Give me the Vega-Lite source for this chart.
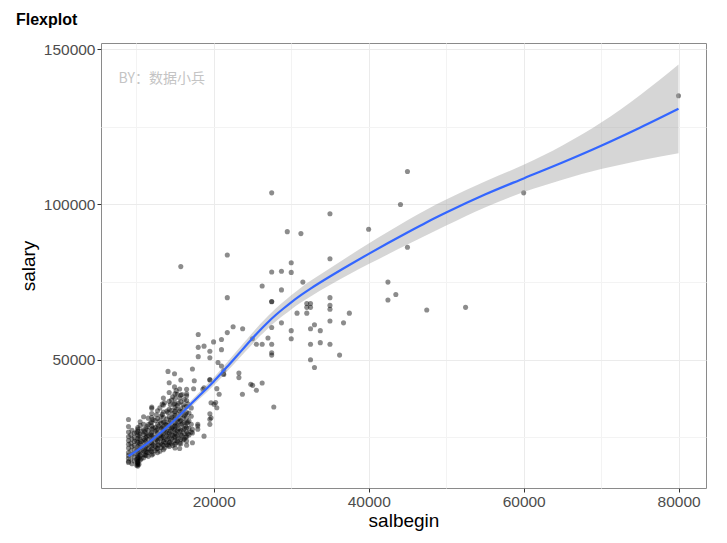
{
"$schema": "https://vega.github.io/schema/vega-lite/v6.json",
"width": 605, "height": 445,
"autosize": {"type": "none"},
"padding": {"left": 101, "top": 43, "right": 21, "bottom": 55},
"background": "white",
"config": {"view": {"stroke": "#8a8a8a", "strokeWidth": 1}, "font": "Liberation Sans"},
"title": {"text": "Flexplot", "anchor": "start", "frame": "group", "dx": -85, "dy": 15, "offset": 13, "baseline": "bottom", "fontSize": 16, "fontWeight": "bold", "color": "#000000", "font": "Liberation Sans"},
"datasets": {
"pts": [
{"salbegin":45000,"salary":110625},{"salbegin":27480,"salary":103750},{"salbegin":44100,"salary":100000},{"salbegin":35000,"salary":97000},{"salbegin":39990,"salary":92000},{"salbegin":29490,"salary":91250},{"salbegin":31250,"salary":90625},{"salbegin":45000,"salary":86250},{"salbegin":21750,"salary":83750},{"salbegin":35000,"salary":82500},{"salbegin":30000,"salary":81250},{"salbegin":27480,"salary":78250},{"salbegin":28740,"salary":78500},{"salbegin":30000,"salary":78125},{"salbegin":31500,"salary":75000},{"salbegin":26250,"salary":73750},{"salbegin":42480,"salary":75000},{"salbegin":28740,"salary":72500},{"salbegin":43500,"salary":71000},{"salbegin":42480,"salary":69250},{"salbegin":21750,"salary":70000},{"salbegin":35000,"salary":70000},{"salbegin":27480,"salary":68750},{"salbegin":27480,"salary":68700},{"salbegin":32010,"salary":68125},{"salbegin":32490,"salary":68125},{"salbegin":32010,"salary":66875},{"salbegin":32490,"salary":66875},{"salbegin":35000,"salary":67500},{"salbegin":35000,"salary":66250},{"salbegin":47490,"salary":66000},{"salbegin":52500,"salary":66875},{"salbegin":37500,"salary":65000},{"salbegin":30750,"salary":65000},{"salbegin":32010,"salary":65000},{"salbegin":36750,"salary":61875},{"salbegin":35000,"salary":62500},{"salbegin":28740,"salary":61875},{"salbegin":33000,"salary":61250},{"salbegin":32490,"salary":60000},{"salbegin":33750,"salary":59375},{"salbegin":27480,"salary":60375},{"salbegin":30000,"salary":59375},{"salbegin":30000,"salary":56750},{"salbegin":23730,"salary":60000},{"salbegin":22500,"salary":60625},{"salbegin":21750,"salary":58750},{"salbegin":21000,"salary":56500},{"salbegin":19980,"salary":55750},{"salbegin":18750,"salary":54375},{"salbegin":19500,"salary":52750},{"salbegin":21000,"salary":53250},{"salbegin":19500,"salary":50625},{"salbegin":20550,"salary":49125},{"salbegin":24990,"salary":56750},{"salbegin":25500,"salary":55000},{"salbegin":26250,"salary":55000},{"salbegin":27480,"salary":55000},{"salbegin":27000,"salary":57000},{"salbegin":27480,"salary":52250},{"salbegin":27480,"salary":51500},{"salbegin":32490,"salary":55000},{"salbegin":33750,"salary":55500},{"salbegin":35000,"salary":55000},{"salbegin":36240,"salary":51500},{"salbegin":32490,"salary":50000},{"salbegin":33000,"salary":47500},{"salbegin":23250,"salary":45750},{"salbegin":23250,"salary":44250},{"salbegin":21300,"salary":46500},{"salbegin":21300,"salary":45250},{"salbegin":26250,"salary":42500},{"salbegin":25020,"salary":41750},{"salbegin":25500,"salary":40200},{"salbegin":27750,"salary":34800},{"salbegin":60000,"salary":103750},{"salbegin":79980,"salary":135000},{"salbegin":15750,"salary":80000},{"salbegin":18000,"salary":58125},{"salbegin":18000,"salary":54000},{"salbegin":18000,"salary":51000},{"salbegin":17250,"salary":47000},{"salbegin":14100,"salary":46250},{"salbegin":14940,"salary":45500},{"salbegin":15750,"salary":43500},{"salbegin":17490,"salary":43250},{"salbegin":19500,"salary":43500},{"salbegin":19500,"salary":43600},{"salbegin":21240,"salary":45500},{"salbegin":14250,"salary":42600},{"salbegin":14940,"salary":41250},{"salbegin":24780,"salary":42100},{"salbegin":15600,"salary":40600},{"salbegin":16500,"salary":40500},{"salbegin":17400,"salary":40650},{"salbegin":18600,"salary":40500},{"salbegin":20400,"salary":40700},{"salbegin":12000,"salary":34350},{"salbegin":13350,"salary":35700},{"salbegin":15300,"salary":38900},{"salbegin":15900,"salary":38800},{"salbegin":16500,"salary":39000},{"salbegin":20700,"salary":38900},{"salbegin":21000,"salary":48000},{"salbegin":23700,"salary":38900},{"salbegin":20250,"salary":36200},{"salbegin":20400,"salary":34550},{"salbegin":19500,"salary":32600},{"salbegin":19500,"salary":30800},{"salbegin":19500,"salary":29200},{"salbegin":18750,"salary":25400},{"salbegin":17940,"salary":28650},{"salbegin":17940,"salary":27600},{"salbegin":17250,"salary":27600},{"salbegin":17250,"salary":26450},{"salbegin":16500,"salary":22500},{"salbegin":15600,"salary":21400},{"salbegin":18750,"salary":41000},{"salbegin":19650,"salary":36150},{"salbegin":20040,"salary":35650},{"salbegin":19650,"salary":31300},{"salbegin":17250,"salary":23250},{"salbegin":17940,"salary":29200},{"salbegin":9000,"salary":30750},{"salbegin":10950,"salary":31650},{"salbegin":12000,"salary":34800},{"salbegin":10200,"salary":27600},{"salbegin":9000,"salary":21600},{"salbegin":9000,"salary":17300},
{"salbegin":9000,"salary":16950},{"salbegin":9000,"salary":18300},{"salbegin":9000,"salary":19200},{"salbegin":9000,"salary":20100},{"salbegin":9000,"salary":22800},{"salbegin":9000,"salary":24000},{"salbegin":9000,"salary":25200},{"salbegin":9000,"salary":26700},{"salbegin":9000,"salary":28500},
{"salbegin":9750,"salary":17400},{"salbegin":9750,"salary":18750},{"salbegin":9750,"salary":19800},{"salbegin":9750,"salary":21000},{"salbegin":9750,"salary":22350},{"salbegin":9750,"salary":23700},{"salbegin":9750,"salary":25050},{"salbegin":9750,"salary":26400},
{"salbegin":10200,"salary":15750},{"salbegin":10200,"salary":16200},{"salbegin":10200,"salary":16500},{"salbegin":10200,"salary":16800},{"salbegin":10200,"salary":17100},{"salbegin":10200,"salary":17400},{"salbegin":10200,"salary":18000},{"salbegin":10200,"salary":18600},{"salbegin":10200,"salary":19350},{"salbegin":10200,"salary":20250},{"salbegin":10200,"salary":21150},{"salbegin":10200,"salary":22050},{"salbegin":10200,"salary":23400},{"salbegin":10200,"salary":24600},{"salbegin":10200,"salary":25800},{"salbegin":10200,"salary":27000},{"salbegin":10200,"salary":28200},
{"salbegin":10500,"salary":17700},{"salbegin":10500,"salary":19050},{"salbegin":10500,"salary":20400},{"salbegin":10500,"salary":21750},{"salbegin":10500,"salary":23100},{"salbegin":10500,"salary":24450},{"salbegin":10500,"salary":26100},{"salbegin":10500,"salary":28800},{"salbegin":10500,"salary":30000},
{"salbegin":10950,"salary":18450},{"salbegin":10950,"salary":19500},{"salbegin":10950,"salary":20700},{"salbegin":10950,"salary":22050},{"salbegin":10950,"salary":23250},{"salbegin":10950,"salary":24600},{"salbegin":10950,"salary":25950},{"salbegin":10950,"salary":27450},{"salbegin":10950,"salary":29250},
{"salbegin":11250,"salary":19200},{"salbegin":11250,"salary":20550},{"salbegin":11250,"salary":21900},{"salbegin":11250,"salary":23550},{"salbegin":11250,"salary":24900},{"salbegin":11250,"salary":26250},{"salbegin":11250,"salary":27750},
{"salbegin":11550,"salary":18900},{"salbegin":11550,"salary":20250},{"salbegin":11550,"salary":21450},{"salbegin":11550,"salary":22950},{"salbegin":11550,"salary":24300},{"salbegin":11550,"salary":25650},{"salbegin":11550,"salary":27300},{"salbegin":11550,"salary":29100},{"salbegin":11550,"salary":31200},
{"salbegin":12000,"salary":19350},{"salbegin":12000,"salary":20400},{"salbegin":12000,"salary":21300},{"salbegin":12000,"salary":22200},{"salbegin":12000,"salary":23100},{"salbegin":12000,"salary":24000},{"salbegin":12000,"salary":24750},{"salbegin":12000,"salary":25650},{"salbegin":12000,"salary":26550},{"salbegin":12000,"salary":27600},{"salbegin":12000,"salary":28650},{"salbegin":12000,"salary":29850},{"salbegin":12000,"salary":31350},{"salbegin":12000,"salary":32700},
{"salbegin":12450,"salary":20700},{"salbegin":12450,"salary":22050},{"salbegin":12450,"salary":23550},{"salbegin":12450,"salary":25050},{"salbegin":12450,"salary":26700},{"salbegin":12450,"salary":28200},{"salbegin":12450,"salary":30450},
{"salbegin":12750,"salary":20100},{"salbegin":12750,"salary":21450},{"salbegin":12750,"salary":22650},{"salbegin":12750,"salary":23850},{"salbegin":12750,"salary":25200},{"salbegin":12750,"salary":26400},{"salbegin":12750,"salary":27750},{"salbegin":12750,"salary":29250},{"salbegin":12750,"salary":31050},{"salbegin":12750,"salary":33600},
{"salbegin":13200,"salary":21750},{"salbegin":13200,"salary":23250},{"salbegin":13200,"salary":24750},{"salbegin":13200,"salary":26250},{"salbegin":13200,"salary":27900},{"salbegin":13200,"salary":29550},{"salbegin":13200,"salary":31800},
{"salbegin":13500,"salary":21000},{"salbegin":13500,"salary":22350},{"salbegin":13500,"salary":23700},{"salbegin":13500,"salary":24900},{"salbegin":13500,"salary":26100},{"salbegin":13500,"salary":27300},{"salbegin":13500,"salary":28500},{"salbegin":13500,"salary":29850},{"salbegin":13500,"salary":31500},{"salbegin":13500,"salary":33150},{"salbegin":13500,"salary":35400},{"salbegin":13500,"salary":37650},
{"salbegin":13950,"salary":22650},{"salbegin":13950,"salary":24150},{"salbegin":13950,"salary":25650},{"salbegin":13950,"salary":27150},{"salbegin":13950,"salary":28950},{"salbegin":13950,"salary":30900},{"salbegin":13950,"salary":33450},
{"salbegin":14250,"salary":22050},{"salbegin":14250,"salary":23400},{"salbegin":14250,"salary":24750},{"salbegin":14250,"salary":26400},{"salbegin":14250,"salary":28050},{"salbegin":14250,"salary":29700},{"salbegin":14250,"salary":31650},{"salbegin":14250,"salary":34050},{"salbegin":14250,"salary":36600},{"salbegin":14250,"salary":39450},
{"salbegin":14550,"salary":23100},{"salbegin":14550,"salary":24600},{"salbegin":14550,"salary":26250},{"salbegin":14550,"salary":27900},{"salbegin":14550,"salary":29400},{"salbegin":14550,"salary":31200},{"salbegin":14550,"salary":33750},{"salbegin":14550,"salary":37050},
{"salbegin":15000,"salary":21600},{"salbegin":15000,"salary":22800},{"salbegin":15000,"salary":24000},{"salbegin":15000,"salary":25200},{"salbegin":15000,"salary":26400},{"salbegin":15000,"salary":27450},{"salbegin":15000,"salary":28650},{"salbegin":15000,"salary":29700},{"salbegin":15000,"salary":30900},{"salbegin":15000,"salary":32100},{"salbegin":15000,"salary":33300},{"salbegin":15000,"salary":34650},{"salbegin":15000,"salary":36000},{"salbegin":15000,"salary":37500},{"salbegin":15000,"salary":39000},
{"salbegin":15300,"salary":23850},{"salbegin":15300,"salary":25500},{"salbegin":15300,"salary":27150},{"salbegin":15300,"salary":28800},{"salbegin":15300,"salary":30600},{"salbegin":15300,"salary":32550},{"salbegin":15300,"salary":35250},
{"salbegin":15750,"salary":22950},{"salbegin":15750,"salary":24300},{"salbegin":15750,"salary":25800},{"salbegin":15750,"salary":27300},{"salbegin":15750,"salary":28950},{"salbegin":15750,"salary":30450},{"salbegin":15750,"salary":32250},{"salbegin":15750,"salary":34200},{"salbegin":15750,"salary":36450},{"salbegin":15750,"salary":38550},
{"salbegin":16200,"salary":24450},{"salbegin":16200,"salary":26250},{"salbegin":16200,"salary":27900},{"salbegin":16200,"salary":29850},{"salbegin":16200,"salary":31950},{"salbegin":16200,"salary":34800},{"salbegin":16200,"salary":37200},
{"salbegin":16500,"salary":23850},{"salbegin":16500,"salary":25200},{"salbegin":16500,"salary":26700},{"salbegin":16500,"salary":28200},{"salbegin":16500,"salary":29700},{"salbegin":16500,"salary":31350},{"salbegin":16500,"salary":33000},{"salbegin":16500,"salary":34950},{"salbegin":16500,"salary":36900},{"salbegin":16500,"salary":38400},
{"salbegin":16800,"salary":25800},{"salbegin":16800,"salary":27900},{"salbegin":16800,"salary":30300},{"salbegin":16800,"salary":32850},
{"salbegin":17100,"salary":26700},{"salbegin":17100,"salary":29250},{"salbegin":17100,"salary":31800},{"salbegin":17100,"salary":34500},
{"salbegin":9300,"salary":18000},{"salbegin":9300,"salary":20700},{"salbegin":9300,"salary":23100},{"salbegin":9300,"salary":25800},
{"salbegin":9450,"salary":16500},{"salbegin":9450,"salary":19500},{"salbegin":9450,"salary":22050},{"salbegin":9450,"salary":24450},{"salbegin":9450,"salary":27300},
{"salbegin":10050,"salary":16050},{"salbegin":10050,"salary":17850},{"salbegin":10050,"salary":20850},{"salbegin":10050,"salary":23850},{"salbegin":10050,"salary":26550},
{"salbegin":10350,"salary":16350},{"salbegin":10350,"salary":18450},{"salbegin":10350,"salary":19650},{"salbegin":10350,"salary":22650},{"salbegin":10350,"salary":25350},
{"salbegin":10650,"salary":18150},{"salbegin":10650,"salary":20850},{"salbegin":10650,"salary":23700},{"salbegin":10650,"salary":27000},
{"salbegin":11100,"salary":19350},{"salbegin":11100,"salary":21150},{"salbegin":11100,"salary":24150},{"salbegin":11100,"salary":26850},
{"salbegin":11400,"salary":20100},{"salbegin":11400,"salary":22500},{"salbegin":11400,"salary":25350},{"salbegin":11400,"salary":28500},
{"salbegin":11850,"salary":20850},{"salbegin":11850,"salary":23400},{"salbegin":11850,"salary":26100},{"salbegin":11850,"salary":29700},
{"salbegin":12150,"salary":19650},{"salbegin":12150,"salary":22500},{"salbegin":12150,"salary":25200},{"salbegin":12150,"salary":28050},{"salbegin":12150,"salary":30750},
{"salbegin":12600,"salary":21300},{"salbegin":12600,"salary":24300},{"salbegin":12600,"salary":27300},{"salbegin":12600,"salary":32250},
{"salbegin":12900,"salary":22500},{"salbegin":12900,"salary":24600},{"salbegin":12900,"salary":28650},
{"salbegin":13050,"salary":20550},{"salbegin":13050,"salary":25800},{"salbegin":13050,"salary":30300},{"salbegin":13050,"salary":34500},
{"salbegin":13350,"salary":22800},{"salbegin":13350,"salary":25500},{"salbegin":13350,"salary":28050},{"salbegin":13350,"salary":32400},
{"salbegin":13650,"salary":21600},{"salbegin":13650,"salary":24300},{"salbegin":13650,"salary":27600},{"salbegin":13650,"salary":30000},{"salbegin":13650,"salary":36150},
{"salbegin":13800,"salary":23250},{"salbegin":13800,"salary":26700},{"salbegin":13800,"salary":29100},
{"salbegin":14100,"salary":22500},{"salbegin":14100,"salary":25350},{"salbegin":14100,"salary":28800},{"salbegin":14100,"salary":33000},
{"salbegin":14400,"salary":23550},{"salbegin":14400,"salary":27000},{"salbegin":14400,"salary":30450},{"salbegin":14400,"salary":35550},
{"salbegin":14700,"salary":22350},{"salbegin":14700,"salary":25650},{"salbegin":14700,"salary":28350},{"salbegin":14700,"salary":32700},{"salbegin":14700,"salary":38100},
{"salbegin":14850,"salary":24900},{"salbegin":14850,"salary":27750},{"salbegin":14850,"salary":31350},{"salbegin":14850,"salary":35700},
{"salbegin":15150,"salary":23250},{"salbegin":15150,"salary":26100},{"salbegin":15150,"salary":29250},{"salbegin":15150,"salary":33900},{"salbegin":15150,"salary":40050},
{"salbegin":15450,"salary":24600},{"salbegin":15450,"salary":27750},{"salbegin":15450,"salary":31050},{"salbegin":15450,"salary":36000},
{"salbegin":15600,"salary":23100},{"salbegin":15600,"salary":26850},{"salbegin":15600,"salary":30150},{"salbegin":15600,"salary":33600},{"salbegin":15600,"salary":37650},
{"salbegin":15900,"salary":25650},{"salbegin":15900,"salary":29400},{"salbegin":15900,"salary":33300},
{"salbegin":16050,"salary":24150},{"salbegin":16050,"salary":27450},{"salbegin":16050,"salary":31200},{"salbegin":16050,"salary":35550},
{"salbegin":16350,"salary":25050},{"salbegin":16350,"salary":28650},{"salbegin":16350,"salary":32550},
{"salbegin":16650,"salary":26250},{"salbegin":16650,"salary":29850},{"salbegin":16650,"salary":35850}
],
"fit": [
{"salbegin":9000,"fit":19000,"lo":17500,"hi":20500},
{"salbegin":10000,"fit":20600,"lo":19400,"hi":21800},
{"salbegin":11000,"fit":22300,"lo":21300,"hi":23300},
{"salbegin":12000,"fit":24100,"lo":23200,"hi":25000},
{"salbegin":13000,"fit":26200,"lo":25300,"hi":27100},
{"salbegin":14000,"fit":28400,"lo":27500,"hi":29300},
{"salbegin":15000,"fit":30700,"lo":29800,"hi":31600},
{"salbegin":16000,"fit":33100,"lo":32100,"hi":34100},
{"salbegin":17000,"fit":35600,"lo":34600,"hi":36600},
{"salbegin":18000,"fit":38100,"lo":37000,"hi":39200},
{"salbegin":19000,"fit":40500,"lo":39300,"hi":41700},
{"salbegin":20000,"fit":43000,"lo":41700,"hi":44300},
{"salbegin":21000,"fit":45700,"lo":44300,"hi":47100},
{"salbegin":22000,"fit":48500,"lo":47000,"hi":50000},
{"salbegin":23000,"fit":51300,"lo":49700,"hi":52900},
{"salbegin":24000,"fit":54100,"lo":52400,"hi":55800},
{"salbegin":25000,"fit":56900,"lo":55100,"hi":58700},
{"salbegin":26000,"fit":59600,"lo":57700,"hi":61500},
{"salbegin":27000,"fit":62100,"lo":60100,"hi":64100},
{"salbegin":28000,"fit":64400,"lo":62300,"hi":66500},
{"salbegin":29000,"fit":66500,"lo":64300,"hi":68700},
{"salbegin":30000,"fit":68500,"lo":66200,"hi":70800},
{"salbegin":31250,"fit":70800,"lo":68400,"hi":73200},
{"salbegin":32500,"fit":72900,"lo":70400,"hi":75400},
{"salbegin":35000,"fit":76800,"lo":74100,"hi":79500},
{"salbegin":37500,"fit":80500,"lo":77500,"hi":83500},
{"salbegin":40000,"fit":84100,"lo":80800,"hi":87400},
{"salbegin":42500,"fit":87600,"lo":84000,"hi":91200},
{"salbegin":45000,"fit":91000,"lo":87100,"hi":94900},
{"salbegin":47500,"fit":94300,"lo":90200,"hi":98400},
{"salbegin":50000,"fit":97400,"lo":93200,"hi":101600},
{"salbegin":55000,"fit":103200,"lo":99000,"hi":107400},
{"salbegin":60000,"fit":108400,"lo":104000,"hi":112800},
{"salbegin":65000,"fit":113500,"lo":108000,"hi":119000},
{"salbegin":70000,"fit":118900,"lo":111400,"hi":126400},
{"salbegin":75000,"fit":124700,"lo":114200,"hi":135200},
{"salbegin":79980,"fit":130800,"lo":116500,"hi":145100}
]
},
"layer": [
{"data": {"name": "pts"},
 "mark": {"type": "circle", "color": "#000000", "opacity": 0.45, "size": 26},
 "encoding": {
  "x": {"field": "salbegin", "type": "quantitative",
    "scale": {"domain": [5451, 83529], "nice": false, "zero": false},
    "axis": {"values": [10000,20000,30000,40000,50000,60000,70000,80000], "format": "d",
      "labelExpr": "datum.value % 20000 === 0 ? datum.label : ''",
      "tickColor": {"condition": {"test": "datum.value % 20000 === 0", "value": "#333333"}, "value": "transparent"},
      "gridColor": {"condition": {"test": "datum.value % 20000 === 0", "value": "#ebebeb"}, "value": "#f3f3f3"},
      "domain": false, "tickSize": 4, "labelFontSize": 15.5, "labelColor": "#4d4d4d", "labelPadding": 2,
      "labelOverlap": false, "labelFlush": false,
      "title": "salbegin", "titleFontSize": 19, "titleColor": "#000000", "titleFontWeight": "normal", "titlePadding": 2}},
  "y": {"field": "salary", "type": "quantitative",
    "scale": {"domain": [8700, 152000], "nice": false, "zero": false},
    "axis": {"values": [25000,50000,75000,100000,125000,150000], "format": "d",
      "labelExpr": "datum.value % 50000 === 0 ? datum.label : ''",
      "tickColor": {"condition": {"test": "datum.value % 50000 === 0", "value": "#333333"}, "value": "transparent"},
      "gridColor": {"condition": {"test": "datum.value % 50000 === 0", "value": "#ebebeb"}, "value": "#f3f3f3"},
      "domain": false, "tickSize": 4, "labelFontSize": 15.5, "labelColor": "#4d4d4d", "labelPadding": 2,
      "labelOverlap": false, "labelFlush": false,
      "title": "salary", "titleFontSize": 19, "titleColor": "#000000", "titleFontWeight": "normal", "titlePadding": 5}}
 }},
{"data": {"name": "fit"},
 "mark": {"type": "area", "color": "#999999", "opacity": 0.4, "interpolate": "monotone"},
 "encoding": {
  "x": {"field": "salbegin", "type": "quantitative"},
  "y": {"field": "lo", "type": "quantitative"},
  "y2": {"field": "hi"}
 }},
{"data": {"name": "fit"},
 "mark": {"type": "line", "color": "#3366FF", "strokeWidth": 2.2, "interpolate": "monotone"},
 "encoding": {
  "x": {"field": "salbegin", "type": "quantitative"},
  "y": {"field": "fit", "type": "quantitative"}
 }},
{"data": {"values": [{}]},
 "mark": {"type": "text", "text": "BY：数据小兵", "font": "Noto Sans CJK SC", "fontSize": 14, "color": "#c4c4c4", "align": "left", "baseline": "middle"},
 "encoding": {
  "x": {"datum": 7718, "type": "quantitative"},
  "y": {"datum": 140300, "type": "quantitative"}
 }}
]
}
